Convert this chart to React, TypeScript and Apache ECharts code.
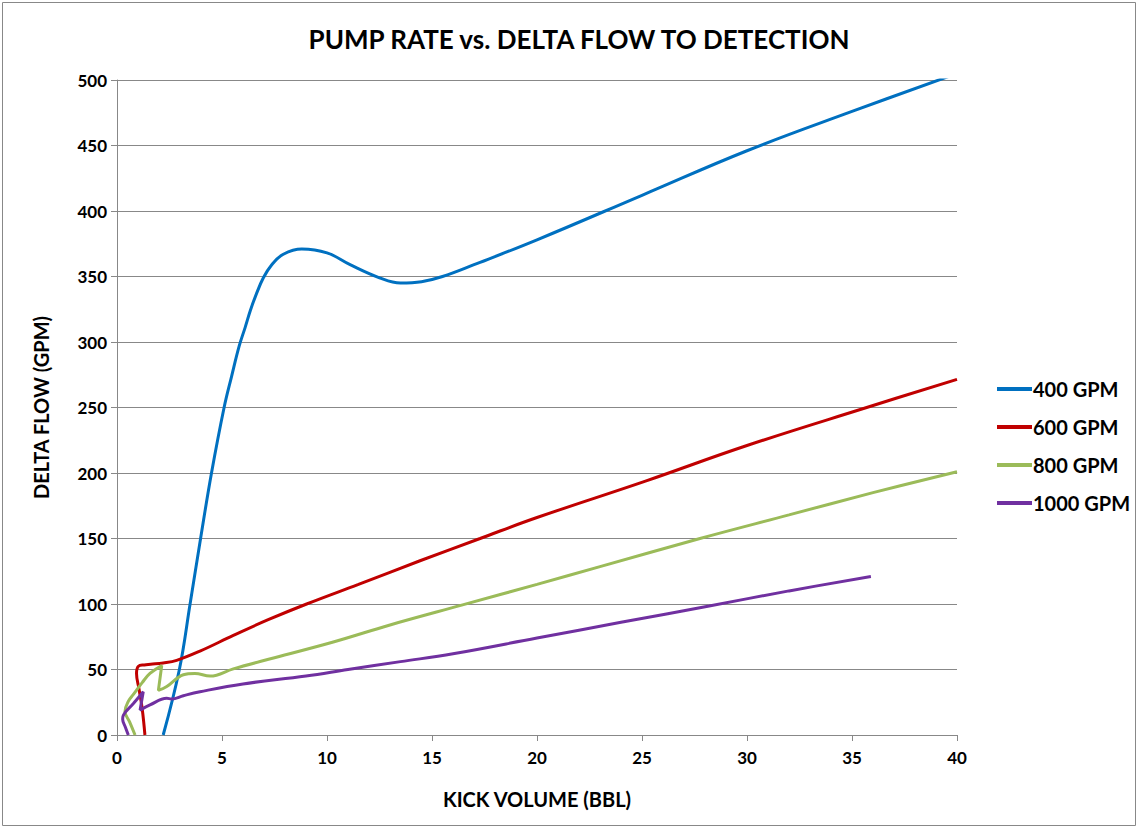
import React, { useEffect, useRef } from "react";
import * as echarts from "echarts";

const seriesNames = ["400 GPM", "600 GPM", "800 GPM", "1000 GPM"];
const colors = ["#0070C0", "#C00000", "#9BBB59", "#7030A0"];

const gpm400: [number, number][] = [
  [2.2, 0], [2.97, 50], [3.48, 100], [3.98, 150], [4.5, 200], [5.1, 250], [5.46, 274],
  [5.82, 297], [6.1, 311], [6.35, 324], [6.62, 336], [6.97, 349], [7.37, 359], [7.92, 367],
  [8.8, 371], [10, 368], [11.1, 359], [12.5, 349], [13.5, 345], [14.5, 346], [15.5, 350],
  [17, 359], [20, 378], [25, 412], [30, 446], [35, 476], [40, 505],
];
const gpm600: [number, number][] = [
  [1.33, 0], [1.2, 20], [1.05, 35], [0.93, 47], [1.02, 52.5], [1.3, 53.5], [1.6, 54],
  [2.2, 55], [2.84, 57], [3.95, 64], [5.54, 76], [7.2, 88], [9.03, 100], [11.5, 115],
  [14.43, 133], [17.29, 150], [20, 166], [25.2, 194], [30, 221], [35.7, 250], [40, 271.5],
];
const gpm800: [number, number][] = [
  [0.86, 0], [0.6, 10], [0.38, 18], [0.55, 26], [0.78, 31], [1.2, 40], [1.57, 47],
  [2.13, 53], [1.97, 34], [2.37, 37], [3.16, 46], [3.71, 47], [4.43, 45], [5.54, 50.5],
  [7.5, 59], [10.3, 71], [13, 84], [16.5, 99.5], [20, 115], [23, 128.5], [27.76, 150],
  [32, 168], [36, 185], [40, 201],
];
const gpm1000: [number, number][] = [
  [0.54, 0], [0.4, 6], [0.27, 12], [0.3, 15], [0.78, 24], [1.25, 33], [1.1, 19],
  [1.57, 23], [2.37, 28], [2.6, 27.5], [3.16, 30], [3.95, 33], [6, 39], [9, 45],
  [11, 50], [13.5, 56], [16, 62], [20, 74], [24, 86], [28.2, 98.5], [32, 110], [35.9, 121],
];
const allData = [gpm400, gpm600, gpm800, gpm1000];

const FONT = "Lato";

export default function App() {
  const ref = useRef<HTMLDivElement>(null);
  useEffect(() => {
    const chart = echarts.init(ref.current!, null, { renderer: "svg" });
    chart.setOption({
      animation: false,
      backgroundColor: "#ffffff",
      textStyle: { fontFamily: FONT },
      title: {
        text: "PUMP RATE vs. DELTA FLOW TO DETECTION",
        left: 574,
        top: 21,
        textAlign: "center",
        textStyle: { fontFamily: FONT, fontWeight: "bold", fontSize: 26, color: "#000" },
      },
      graphic: [
        {
          type: "rect",
          shape: { x: 2.5, y: 2.5, width: 1133, height: 823 },
          style: { fill: "none", stroke: "#888", lineWidth: 1 },
          silent: true,
        },
      ],
      legend: {
        orient: "vertical",
        left: 992,
        top: 374,
        itemGap: 18,
        itemWidth: 35,
        itemHeight: 4,
        icon: "rect",
        data: seriesNames,
        textStyle: { fontFamily: FONT, fontWeight: "bold", fontSize: 20, color: "#000", padding: [0, 0, 0, -4] },
      },
      grid: { left: 117, right: 182, top: 80, bottom: 94, containLabel: false },
      xAxis: {
        type: "value",
        min: 0,
        max: 40,
        interval: 5,
        name: "KICK VOLUME (BBL)",
        nameLocation: "middle",
        nameGap: 54,
        nameTextStyle: { fontFamily: FONT, fontWeight: "bold", fontSize: 20, color: "#000" },
        axisLine: { show: true, lineStyle: { color: "#888", width: 1 } },
        axisTick: { show: true, length: 6, lineStyle: { color: "#888" } },
        axisLabel: { fontFamily: FONT, fontWeight: "bold", fontSize: 17, color: "#000", margin: 14 },
        splitLine: { show: false },
      },
      yAxis: {
        type: "value",
        min: 0,
        max: 500,
        interval: 50,
        name: "DELTA FLOW (GPM)",
        nameLocation: "middle",
        nameGap: 66,
        nameRotate: 90,
        nameTextStyle: { fontFamily: FONT, fontWeight: "bold", fontSize: 20, color: "#000" },
        axisLine: { show: true, lineStyle: { color: "#888", width: 1 } },
        axisTick: { show: true, length: 6, lineStyle: { color: "#888" } },
        axisLabel: { fontFamily: FONT, fontWeight: "bold", fontSize: 17, color: "#000", margin: 10 },
        splitLine: { show: true, lineStyle: { color: "#888", width: 1 } },
      },
      series: allData.map((d, i) => ({
        type: "line",
        name: seriesNames[i],
        data: d,
        smooth: 0.4,
        showSymbol: false,
        symbol: "none",
        clip: true,
        color: colors[i],
        lineStyle: { color: colors[i], width: 3 },
      })),
    });
    return () => chart.dispose();
  }, []);
  return (
    <div
      ref={ref}
      style={{ position: "absolute", left: 0, top: 0, width: 1139, height: 829 }}
    />
  );
}
